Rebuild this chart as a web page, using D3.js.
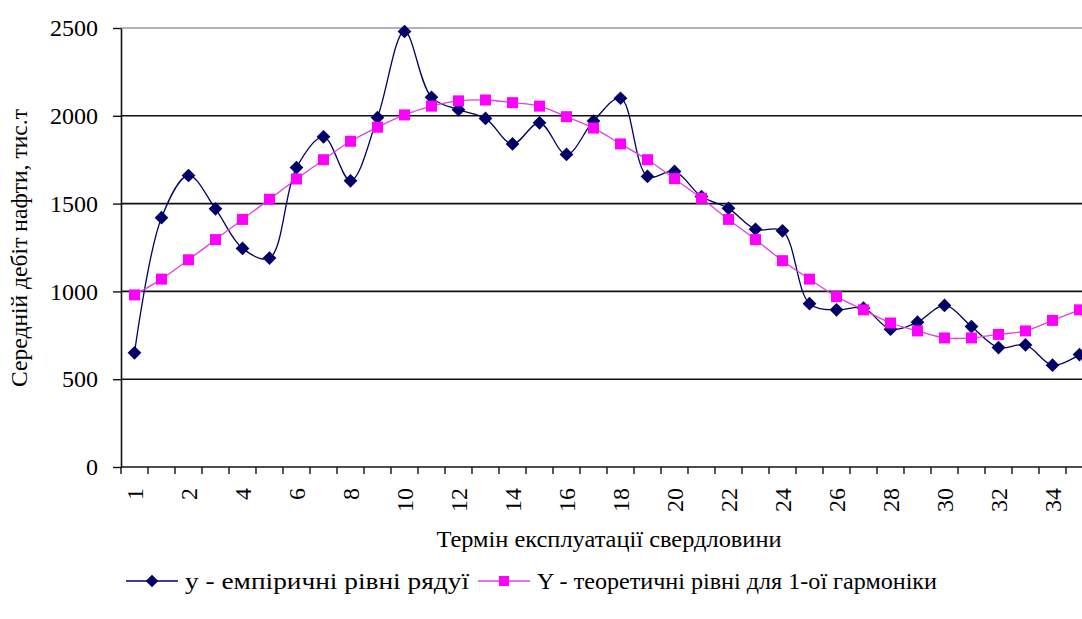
<!DOCTYPE html>
<html><head><meta charset="utf-8">
<script src="https://cdn.jsdelivr.net/npm/d3@7"></script>
<style>
html,body{margin:0;padding:0;background:#fff;}
text{font-family:"Liberation Serif","Times New Roman",serif;fill:#000;}
</style></head>
<body><svg id="c" width="1082" height="619"></svg>
<script>
// ---- data ----
const categories = d3.range(36);
const xTickLabels = ["1","","2","","4","","6","","8","","10","","12","","14","","16","","18","",
  "20","","22","","24","","26","","28","","30","","32","","34",""];
const empirical = [650,1420,1660,1470,1245,1190,1705,1880,1630,1990,2480,2105,2035,1985,1840,1960,1780,1970,2100,1655,
  1683,1540,1473,1354,1345,930,895,905,785,825,920,800,680,695,580,640];
const theoretical = [980,1070,1180,1295,1410,1525,1640,1750,1855,1935,2005,2055,2085,2090,2075,2055,1995,1930,1840,1750,
  1642,1530,1410,1295,1175,1070,970,895,820,775,735,735,755,775,835,895];
const yTicks = [0,500,1000,1500,2000,2500];
const seriesNames = ["у - емпіричні рівні рядуї","Y - теоретичні рівні для 1-ої гармоніки"];
const yTitle = "Середній дебіт нафти, тис.т";
const xTitle = "Термін експлуатації свердловини";

// ---- layout ----
const svg = d3.select("#c");
const mLeft = 121, mTop = 28, mBottom = 467, step = 27;
const x = d3.scaleBand().domain(categories).range([mLeft, mLeft + step*categories.length]).paddingInner(0).paddingOuter(0);
const y = d3.scaleLinear().domain([0,2500]).range([mBottom, mTop]);
const cx = i => x(i) + x.bandwidth()/2;
const FS = 24;

// gridlines
svg.append("g").selectAll("line").data(yTicks.filter(d=>d>0)).join("line")
  .attr("x1", mLeft).attr("x2", 1082).attr("y1", d=>y(d)).attr("y2", d=>y(d))
  .attr("stroke", d=> d===2500 ? "#9a9a9a" : "#111").attr("stroke-width", 1.6);

// y axis
const yAxis = svg.append("g").attr("transform",`translate(${mLeft},0)`)
  .call(d3.axisLeft(y).tickValues(yTicks).tickSize(8).tickSizeOuter(0).tickFormat(d3.format("d")));
yAxis.select(".domain").attr("stroke","#111").attr("stroke-width",1.6);
yAxis.selectAll(".tick line").attr("stroke","#111").attr("stroke-width",1.4);
yAxis.selectAll(".tick text").attr("x",-23).attr("font-size",FS).attr("font-family","Liberation Serif").attr("fill","#000");

// x axis
const xg = svg.append("g").attr("transform",`translate(0,${mBottom})`);
xg.append("line").attr("x1",mLeft).attr("x2",1082).attr("y1",0).attr("y2",0).attr("stroke","#111").attr("stroke-width",1.6);
xg.selectAll("line.t").data(categories).join("line").attr("class","t")
  .attr("x1", d=>x(d)).attr("x2", d=>x(d)).attr("y1",0).attr("y2",7).attr("stroke","#111").attr("stroke-width",1.4);
xg.selectAll("text").data(categories.filter(d=>xTickLabels[d]!=="")).join("text")
  .attr("transform", d=>`translate(${cx(d)+8},21) rotate(-90)`)
  .attr("text-anchor","end").attr("font-size",FS).text(d=>xTickLabels[d]);

// titles
svg.append("text").attr("transform",`translate(27,248) rotate(-90)`).attr("text-anchor","middle")
  .attr("font-size",FS).attr("textLength",278).attr("lengthAdjust","spacingAndGlyphs").text(yTitle);
svg.append("text").attr("x",609).attr("y",547).attr("text-anchor","middle").attr("font-size",FS)
  .attr("textLength",345).attr("lengthAdjust","spacingAndGlyphs").text(xTitle);

// lines
const line = (arr) => d3.line().x((d,i)=>cx(i)).y(d=>y(d)).curve(d3.curveCatmullRom.alpha(0.5))(arr);
const navy = "#000066", pink = "#ff00ff";
svg.append("path").attr("d", line(empirical)).attr("fill","none").attr("stroke",navy).attr("stroke-width",1.3);
svg.append("g").selectAll("path").data(empirical).join("path")
  .attr("d", d3.symbol(d3.symbolDiamond2, 120))
  .attr("transform",(d,i)=>`translate(${cx(i)},${y(d)})`).attr("fill",navy);
svg.append("path").attr("d", line(theoretical)).attr("fill","none").attr("stroke","#e040e0").attr("stroke-width",1.3);
svg.append("g").selectAll("rect").data(theoretical).join("rect")
  .attr("x",(d,i)=>cx(i)-5.5).attr("y",d=>y(d)-5.5).attr("width",11).attr("height",11).attr("fill",pink);

// legend
const lg = svg.append("g");
const ly = 581;
lg.append("line").attr("x1",126).attr("x2",178).attr("y1",ly).attr("y2",ly).attr("stroke",navy).attr("stroke-width",1.5);
lg.append("path").attr("d", d3.symbol(d3.symbolDiamond2, 100)).attr("transform",`translate(152,${ly})`).attr("fill",navy);
lg.append("text").attr("x",185).attr("y",ly+8).attr("font-size",FS)
  .attr("textLength",284).attr("lengthAdjust","spacingAndGlyphs").text(seriesNames[0]);
lg.append("line").attr("x1",478).attr("x2",530).attr("y1",ly).attr("y2",ly).attr("stroke","#e040e0").attr("stroke-width",1.5);
lg.append("rect").attr("x",499).attr("y",ly-5).attr("width",10).attr("height",10).attr("fill",pink);
lg.append("text").attr("x",537).attr("y",ly+8).attr("font-size",FS)
  .attr("textLength",400).attr("lengthAdjust","spacingAndGlyphs").text(seriesNames[1]);
</script></body></html>
